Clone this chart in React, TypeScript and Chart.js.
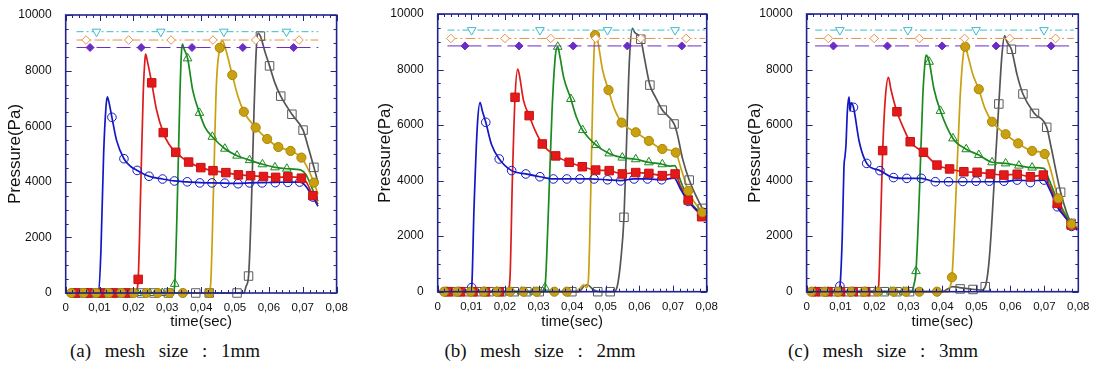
import React, { useEffect, useRef } from "react";
import { Chart, registerables } from "chart.js";

Chart.register(...registerables);

type Pt = [number, number];

// ---- axis labels ----
const xTickLabels = ["0", "0,01", "0,02", "0,03", "0,04", "0,05", "0,06", "0,07", "0,08"];
const yTickLabels = ["0", "2000", "4000", "6000", "8000", "10000"];
const captions = ["(a) mesh size : 1mm", "(b) mesh size : 2mm", "(c) mesh size : 3mm"];

// ---- (a) mesh size 1mm ----
const aBlueLine: Pt[] = [[0, 0], [0.0097, 0], [0.0104, 1500], [0.0112, 5000], [0.0119, 6700], [0.0123, 7060], [0.0128, 6850], [0.01365, 6320], [0.015, 5500], [0.0172, 4830], [0.0192, 4550], [0.0211, 4410], [0.0246, 4200], [0.0286, 4100], [0.0321, 4030], [0.0359, 4000], [0.0396, 3970], [0.0432, 3960], [0.047, 3950], [0.0509, 3940], [0.0543, 3960], [0.058, 3970], [0.0619, 3980], [0.0656, 3990], [0.0691, 3990], [0.0705, 3900], [0.072, 3650], [0.073, 3450], [0.0745, 3120]];
const aBlueMarks: Pt[] = [[0.0026, 0], [0.0063, 0], [0.0099, 0], [0.01365, 6320], [0.0172, 4830], [0.0211, 4410], [0.0246, 4200], [0.0286, 4100], [0.0321, 4030], [0.0359, 4000], [0.0396, 3960], [0.0432, 3960], [0.047, 3950], [0.0509, 3930], [0.0543, 3960], [0.058, 3960], [0.0619, 3970], [0.0656, 3980], [0.0691, 3990], [0.073, 3450]];
const aRedLine: Pt[] = [[0, 0], [0.0206, 0], [0.0214, 490], [0.0221, 3500], [0.0229, 7200], [0.0234, 8400], [0.0236, 8590], [0.0241, 8350], [0.0254, 7560], [0.0268, 6600], [0.0288, 5770], [0.0305, 5350], [0.0325, 5060], [0.0363, 4710], [0.0399, 4510], [0.0435, 4400], [0.0473, 4330], [0.051, 4250], [0.0546, 4220], [0.0584, 4190], [0.062, 4160], [0.0656, 4180], [0.0696, 4130], [0.071, 4000], [0.073, 3500], [0.0745, 3200]];
const aRedMarks: Pt[] = [[0.0029, 0], [0.0066, 0], [0.0103, 0], [0.014, 0], [0.0177, 0], [0.0214, 490], [0.0254, 7560], [0.0288, 5770], [0.0325, 5060], [0.0363, 4710], [0.0399, 4510], [0.0435, 4400], [0.0473, 4330], [0.051, 4250], [0.0546, 4220], [0.0584, 4190], [0.062, 4160], [0.0656, 4180], [0.0696, 4130], [0.073, 3500]];
const aGreenLine: Pt[] = [[0, 0], [0.0316, 0], [0.0322, 330], [0.0329, 3000], [0.0337, 7000], [0.0342, 8700], [0.0345, 8950], [0.0349, 8800], [0.036, 8440], [0.0375, 7300], [0.0395, 6480], [0.0412, 5950], [0.0433, 5620], [0.047, 5190], [0.0506, 4940], [0.0543, 4780], [0.0581, 4630], [0.0618, 4520], [0.0653, 4470], [0.0695, 4420], [0.071, 4250], [0.073, 3700], [0.0745, 3300]];
const aGreenMarks: Pt[] = [[0.0026, 0], [0.0063, 0], [0.01, 0], [0.0137, 0], [0.0174, 0], [0.0211, 0], [0.0248, 0], [0.0285, 0], [0.0322, 330], [0.036, 8440], [0.0395, 6480], [0.0433, 5620], [0.047, 5190], [0.0506, 4940], [0.0543, 4780], [0.0581, 4630], [0.0618, 4520], [0.0653, 4470]];
const aYellowLine: Pt[] = [[0, 0], [0.0422, 0], [0.0428, 300], [0.0436, 3500], [0.0445, 7500], [0.0455, 8820], [0.0463, 9080], [0.0468, 8950], [0.0492, 7840], [0.0508, 7100], [0.0526, 6520], [0.0561, 5950], [0.0595, 5540], [0.0628, 5250], [0.0664, 5110], [0.0696, 4870], [0.071, 4600], [0.0733, 3970], [0.0745, 3550]];
const aYellowMarks: Pt[] = [[0.0016, 0], [0.0053, 0], [0.009, 0], [0.0127, 0], [0.0164, 0], [0.0201, 0], [0.0238, 0], [0.0272, 0], [0.0307, 0], [0.0346, 0], [0.0424, 0], [0.0455, 8820], [0.0492, 7840], [0.0526, 6520], [0.0561, 5950], [0.0595, 5540], [0.0628, 5250], [0.0664, 5110], [0.0696, 4870], [0.0733, 3970]];
const aGrayLine: Pt[] = [[0, 0], [0.0526, 0], [0.0533, 250], [0.054, 610], [0.0548, 3000], [0.0556, 6500], [0.0563, 8800], [0.0568, 9340], [0.0575, 9240], [0.0588, 8700], [0.0602, 8170], [0.0618, 7550], [0.0635, 7080], [0.0668, 6430], [0.0701, 5860], [0.0715, 5300], [0.0733, 4520], [0.0745, 3970]];
const aGrayMarks: Pt[] = [[0.0039, 0], [0.0076, 0], [0.0113, 0], [0.015, 0], [0.0187, 0], [0.0224, 0], [0.0261, 0], [0.0303, 0], [0.0384, 0], [0.0424, 0], [0.0506, 0], [0.054, 610], [0.0575, 9240], [0.0602, 8170], [0.0635, 7080], [0.0668, 6430], [0.0701, 5860], [0.0733, 4520]];
const aRefSpan = [0.0032, 0.0746];
const aRefLevels = [9400, 9100, 8830];
const aCyanMarks = [0.0091, 0.0281, 0.0467, 0.0652];
const aOrangeMarks = [0.006, 0.0186, 0.0311, 0.0435, 0.0561, 0.0689];
const aPurpleMarks = [0.0072, 0.0223, 0.0373, 0.0523, 0.0673];

// ---- (b) mesh size 2mm ----
const bBlueLine: Pt[] = [[0, 0], [0.0096, 0], [0.0101, 150], [0.0108, 3000], [0.0118, 6000], [0.0126, 6810], [0.0133, 6500], [0.0143, 6100], [0.016, 5300], [0.0183, 4780], [0.022, 4360], [0.0262, 4240], [0.0304, 4140], [0.0344, 4060], [0.04, 4060], [0.045, 4060], [0.0505, 4030], [0.0544, 4000], [0.0584, 4060], [0.0624, 4060], [0.0666, 4030], [0.0703, 4090], [0.0722, 3700], [0.0745, 3250], [0.0775, 2900], [0.08, 2650]];
const bBlueMarks: Pt[] = [[0.0027, 0], [0.0064, 0], [0.0101, 150], [0.0143, 6100], [0.0183, 4780], [0.022, 4360], [0.0262, 4240], [0.0304, 4140], [0.0344, 4060], [0.0384, 4060], [0.0423, 4060], [0.0465, 4060], [0.0505, 4030], [0.0544, 3990], [0.0584, 4060], [0.0624, 4060], [0.0666, 4030], [0.0745, 3250], [0.0785, 2750]];
const bRedLine: Pt[] = [[0, 0], [0.0208, 0], [0.0215, 500], [0.0222, 4000], [0.023, 7000], [0.0238, 8020], [0.0243, 7800], [0.0255, 6900], [0.0272, 6340], [0.029, 5800], [0.0311, 5320], [0.0351, 4890], [0.0391, 4660], [0.043, 4500], [0.047, 4380], [0.051, 4360], [0.0549, 4240], [0.0589, 4290], [0.0628, 4260], [0.0668, 4180], [0.0706, 4240], [0.0722, 3800], [0.0745, 3300], [0.0775, 2850], [0.08, 2650]];
const bRedMarks: Pt[] = [[0.0031, 0], [0.0068, 0], [0.0105, 0], [0.0142, 0], [0.0183, 0], [0.023, 7000], [0.0272, 6340], [0.0311, 5320], [0.0351, 4890], [0.0391, 4660], [0.043, 4500], [0.047, 4380], [0.051, 4360], [0.0549, 4240], [0.0589, 4290], [0.0628, 4260], [0.0668, 4180], [0.0706, 4240], [0.0745, 3300], [0.0785, 2700]];
const bGreenLine: Pt[] = [[0, 0], [0.0312, 0], [0.0319, 150], [0.0328, 2500], [0.034, 6500], [0.035, 8500], [0.0357, 8820], [0.0363, 8500], [0.0375, 7700], [0.0396, 6940], [0.0412, 6300], [0.0431, 5820], [0.0471, 5280], [0.051, 4980], [0.0549, 4830], [0.0589, 4770], [0.0628, 4660], [0.0668, 4590], [0.069, 4520], [0.0705, 4540], [0.0722, 4000], [0.0745, 3350], [0.0775, 2900], [0.08, 2650]];
const bGreenMarks: Pt[] = [[0.0027, 0], [0.0064, 0], [0.0101, 0], [0.0138, 0], [0.0175, 0], [0.0212, 0], [0.0249, 0], [0.0286, 0], [0.0319, 150], [0.0357, 8820], [0.0396, 6940], [0.0431, 5820], [0.0471, 5280], [0.051, 4980], [0.0549, 4830], [0.0589, 4770], [0.0628, 4660], [0.0668, 4590], [0.0745, 3350], [0.0785, 2750]];
const bYellowLine: Pt[] = [[0, 0], [0.041, 0], [0.0425, 150], [0.0434, 250], [0.0442, 150], [0.0448, 400], [0.0455, 3500], [0.0462, 7500], [0.0468, 9240], [0.0471, 9300], [0.0478, 8900], [0.049, 8000], [0.0508, 7260], [0.0525, 6600], [0.0547, 6090], [0.0589, 5740], [0.0628, 5430], [0.0668, 5140], [0.0708, 5010], [0.0722, 4500], [0.0745, 3630], [0.0765, 3200], [0.0787, 2860], [0.08, 2700]];
const bYellowMarks: Pt[] = [[0.0019, 0], [0.0058, 0], [0.0098, 0], [0.0137, 0], [0.0176, 0], [0.0215, 0], [0.0255, 0], [0.0294, 0], [0.0347, 0], [0.0384, 0], [0.0468, 9240], [0.0508, 7260], [0.0547, 6090], [0.0589, 5740], [0.0628, 5430], [0.0668, 5140], [0.0708, 5010], [0.0745, 3630], [0.0787, 2860]];
const bGrayLine: Pt[] = [[0, 0], [0.042, 0], [0.0435, 200], [0.0445, 250], [0.0462, 80], [0.048, 0], [0.0525, 0], [0.0535, 250], [0.0545, 1200], [0.0554, 2680], [0.0562, 5500], [0.057, 8300], [0.0579, 9480], [0.0585, 9350], [0.0604, 9090], [0.0615, 8400], [0.0631, 7440], [0.0648, 7000], [0.0668, 6540], [0.0703, 6040], [0.0712, 5700], [0.0728, 4800], [0.0748, 4020], [0.0787, 3000], [0.08, 2750]];
const bGrayMarks: Pt[] = [[0.0043, 0], [0.008, 0], [0.0117, 0], [0.0154, 0], [0.0191, 0], [0.0228, 0], [0.0265, 0], [0.0302, 0], [0.0399, 0], [0.0476, 0], [0.0513, 0], [0.0554, 2680], [0.0604, 9090], [0.0631, 7440], [0.0668, 6540], [0.0703, 6040], [0.0748, 4020], [0.0787, 3000]];
const bRefSpan = [0.0029, 0.0795];
const bRefLevels = [9420, 9120, 8850];
const bCyanMarks = [0.0101, 0.0304, 0.0505, 0.0706];
const bOrangeMarks = [0.0039, 0.02, 0.0336, 0.047, 0.0604, 0.0739];
const bPurpleMarks = [0.0081, 0.0242, 0.0403, 0.0564, 0.0726];

// ---- (c) mesh size 3mm ----
const cBlueLine: Pt[] = [[0, 0], [0.0093, 0], [0.0099, 300], [0.0105, 2000], [0.011, 4500], [0.0113, 4860], [0.0116, 5300], [0.012, 6500], [0.0125, 7020], [0.0128, 6500], [0.0131, 6800], [0.0138, 6640], [0.0155, 5400], [0.0177, 4620], [0.0216, 4360], [0.0256, 4110], [0.0295, 4080], [0.0338, 4080], [0.0379, 3960], [0.0418, 3960], [0.046, 3960], [0.0499, 3960], [0.0538, 3960], [0.0581, 3960], [0.062, 4020], [0.0659, 3990], [0.0699, 4020], [0.0715, 3700], [0.0738, 3060], [0.076, 2700], [0.0797, 2220]];
const cBlueMarks: Pt[] = [[0.0024, 0], [0.0061, 0], [0.0098, 200], [0.0138, 6640], [0.0177, 4620], [0.0216, 4360], [0.0256, 4110], [0.0295, 4080], [0.0338, 4080], [0.0379, 3960], [0.0418, 3960], [0.046, 3970], [0.0499, 3980], [0.0538, 3980], [0.0581, 3980], [0.062, 4020], [0.0659, 3930], [0.0699, 4020], [0.0738, 3060], [0.078, 2350]];
const cRedLine: Pt[] = [[0, 0], [0.0205, 0], [0.0212, 200], [0.0218, 2500], [0.0224, 5080], [0.0232, 7000], [0.0241, 7720], [0.0248, 7300], [0.0266, 6480], [0.0285, 5900], [0.0305, 5400], [0.0344, 5020], [0.0384, 4560], [0.0421, 4420], [0.0463, 4320], [0.0502, 4300], [0.0541, 4240], [0.0581, 4200], [0.062, 4230], [0.0659, 4140], [0.0697, 4200], [0.0712, 3900], [0.0738, 3180], [0.0779, 2400], [0.0797, 2250]];
const cRedMarks: Pt[] = [[0.0026, 0], [0.0063, 0], [0.01, 0], [0.0137, 0], [0.0174, 0], [0.0224, 5080], [0.0266, 6480], [0.0305, 5400], [0.0344, 5020], [0.0384, 4560], [0.0421, 4420], [0.0463, 4320], [0.0502, 4300], [0.0541, 4240], [0.0581, 4200], [0.062, 4230], [0.0659, 4140], [0.0697, 4200], [0.0738, 3180], [0.0779, 2400]];
const cGreenLine: Pt[] = [[0, 0], [0.0308, 0], [0.0316, 250], [0.0322, 740], [0.0332, 3500], [0.0342, 7000], [0.0349, 8300], [0.0352, 8520], [0.0361, 8280], [0.0375, 7300], [0.0394, 6510], [0.0431, 5520], [0.047, 5130], [0.0507, 4920], [0.0546, 4660], [0.0586, 4620], [0.0625, 4540], [0.0664, 4470], [0.0699, 4440], [0.0715, 4000], [0.074, 3250], [0.078, 2450], [0.0797, 2250]];
const cGreenMarks: Pt[] = [[0.0026, 0], [0.0063, 0], [0.01, 0], [0.0137, 0], [0.0174, 0], [0.0211, 0], [0.0248, 0], [0.0285, 0], [0.0322, 740], [0.0361, 8280], [0.0394, 6510], [0.0431, 5520], [0.047, 5130], [0.0507, 4920], [0.0546, 4660], [0.0586, 4620], [0.0625, 4540], [0.0664, 4470], [0.074, 3250], [0.078, 2450]];
const cYellowLine: Pt[] = [[0, 0], [0.0418, 0], [0.0423, 200], [0.0428, 520], [0.0438, 3000], [0.0452, 7000], [0.0462, 8600], [0.0467, 8820], [0.0475, 8500], [0.049, 7800], [0.0507, 7290], [0.0525, 6600], [0.0546, 6120], [0.0586, 5670], [0.0623, 5340], [0.0664, 5070], [0.0701, 4960], [0.0716, 4500], [0.0741, 3360], [0.078, 2440], [0.0797, 2300]];
const cYellowMarks: Pt[] = [[0.0014, 0], [0.0053, 0], [0.0092, 0], [0.0131, 0], [0.017, 0], [0.0209, 0], [0.0256, 0], [0.0292, 0], [0.0332, 0], [0.0384, 0], [0.0428, 520], [0.0467, 8820], [0.0507, 7290], [0.0546, 6120], [0.0586, 5670], [0.0623, 5340], [0.0664, 5070], [0.0701, 4960], [0.0741, 3360], [0.078, 2440]];
const cGrayLine: Pt[] = [[0, 0], [0.04, 0], [0.0415, 100], [0.043, 180], [0.045, 150], [0.048, 100], [0.0515, 60], [0.0526, 180], [0.0538, 1200], [0.0555, 4500], [0.0566, 6760], [0.0575, 8500], [0.0583, 9210], [0.059, 9000], [0.0603, 8730], [0.062, 7800], [0.0637, 7120], [0.0671, 6420], [0.0707, 5920], [0.072, 5200], [0.0748, 3580], [0.0779, 2460], [0.0797, 2300]];
const cGrayMarks: Pt[] = [[0.0044, 0], [0.0081, 0], [0.0118, 0], [0.0155, 0], [0.0192, 0], [0.0229, 0], [0.0266, 0], [0.0303, 0], [0.0452, 100], [0.049, 80], [0.0526, 180], [0.0566, 6760], [0.0603, 8730], [0.0637, 7120], [0.0671, 6420], [0.0707, 5920], [0.0748, 3580], [0.0779, 2460]];
const cRefSpan = [0.0025, 0.0787];
const cRefLevels = [9420, 9120, 8850];
const cCyanMarks = [0.0098, 0.0298, 0.0499, 0.0699];
const cOrangeMarks = [0.0064, 0.0199, 0.0332, 0.0465, 0.0598, 0.0733];
const cPurpleMarks = [0.0079, 0.0238, 0.0399, 0.0558, 0.072];

// ---- styling ----
const FRAME = "#20248e";
const SANS = "'Liberation Sans', Arial, sans-serif";
const SERIF = "'Liberation Serif', 'Times New Roman', serif";

const seriesStyles = [
  { color: "#1418c4", marker: "circle", radius: 4.3, fill: "rgba(0,0,0,0)", stroke: "#1418c4", rot: 0 },
  { color: "#dc1c1c", marker: "rect", radius: 6, fill: "#e41a1a", stroke: "#c81212", rot: 0 },
  { color: "#1a8a1e", marker: "triangle", radius: 5, fill: "rgba(0,0,0,0)", stroke: "#1a8a1e", rot: 0 },
  { color: "#c9a012", marker: "circle", radius: 4.6, fill: "#c9a012", stroke: "#a98600", rot: 0 },
  { color: "#555555", marker: "rect", radius: 6, fill: "rgba(0,0,0,0)", stroke: "#5a5a5a", rot: 0 },
];

const refStyles = [
  { color: "#3cbccc", dash: [7, 3, 2, 3], marker: "triangle", radius: 5, fill: "#ffffff", stroke: "#3cbccc", rot: 180 },
  { color: "#e6924a", dash: [10, 3, 2, 3], marker: "rectRot", radius: 4.3, fill: "#ffffff", stroke: "#e6924a", rot: 0 },
  { color: "#6a2cc6", dash: [14, 6], marker: "rectRot", radius: 4, fill: "#6a2cc6", stroke: "#6a2cc6", rot: 0 },
];

const panels = [
  {
    lines: [aBlueLine, aRedLine, aGreenLine, aYellowLine, aGrayLine],
    marks: [aBlueMarks, aRedMarks, aGreenMarks, aYellowMarks, aGrayMarks],
    refSpan: aRefSpan, refLevels: aRefLevels, refMarks: [aCyanMarks, aOrangeMarks, aPurpleMarks],
    canvasLeft: 5, chartLeft: 65.7, chartRight: 336.6, chartTop: 15, chartBottom: 293, xTitleY: 321.7,
    captionX: 165,
  },
  {
    lines: [bBlueLine, bRedLine, bGreenLine, bYellowLine, bGrayLine],
    marks: [bBlueMarks, bRedMarks, bGreenMarks, bYellowMarks, bGrayMarks],
    refSpan: bRefSpan, refLevels: bRefLevels, refMarks: [bCyanMarks, bOrangeMarks, bPurpleMarks],
    canvasLeft: 375, chartLeft: 437.7, chartRight: 706.7, chartTop: 14, chartBottom: 291.7, xTitleY: 321.7,
    captionX: 540,
  },
  {
    lines: [cBlueLine, cRedLine, cGreenLine, cYellowLine, cGrayLine],
    marks: [cBlueMarks, cRedMarks, cGreenMarks, cYellowMarks, cGrayMarks],
    refSpan: cRefSpan, refLevels: cRefLevels, refMarks: [cCyanMarks, cOrangeMarks, cPurpleMarks],
    canvasLeft: 745, chartLeft: 806.6, chartRight: 1078.3, chartTop: 14, chartBottom: 291.7, xTitleY: 321.7,
    captionX: 883,
  },
];

const CANVAS_W = 365;
const CANVAS_H = 340;

const toXY = (pts: Pt[]) => pts.map(([x, y]) => ({ x, y }));

// inward ticks on all four sides plus the frame
const frameTicks = {
  id: "frameTicks",
  afterDatasetsDraw(chart: any) {
    const { ctx, chartArea, scales } = chart;
    const { left, right, top, bottom } = chartArea;
    const xs = scales.x;
    const ys = scales.y;
    ctx.save();
    ctx.strokeStyle = FRAME;
    ctx.lineWidth = 1;
    ctx.beginPath();
    for (let i = 0; i <= 40; i++) {
      const px = Math.round(xs.getPixelForValue(i * 0.002)) + 0.5;
      const len = i % 5 === 0 ? 6 : 3;
      ctx.moveTo(px, bottom);
      ctx.lineTo(px, bottom - len);
      ctx.moveTo(px, top);
      ctx.lineTo(px, top + len);
    }
    for (let i = 0; i <= 20; i++) {
      const py = Math.round(ys.getPixelForValue(i * 500)) + 0.5;
      const len = i % 4 === 0 ? 6 : 3;
      ctx.moveTo(left, py);
      ctx.lineTo(left + len, py);
      ctx.moveTo(right, py);
      ctx.lineTo(right - len, py);
    }
    ctx.stroke();
    ctx.lineWidth = 1.6;
    ctx.strokeRect(left, top, right - left, bottom - top);
    ctx.restore();
  },
};

function Panel({ p }: { p: (typeof panels)[number] }) {
  const ref = useRef<HTMLCanvasElement>(null);

  useEffect(() => {
    const yWidth = p.chartLeft - p.canvasLeft;
    const padRight = CANVAS_W - (p.chartRight - p.canvasLeft);
    const xHeight = p.xTitleY + 9 - p.chartBottom;
    const padBottom = CANVAS_H - p.chartBottom - xHeight;

    const markSets: any[] = [];
    const lineSets: any[] = [];

    // reference levels with their symbols
    p.refLevels.forEach((lvl, i) => {
      const s = refStyles[i];
      markSets.push({
        data: p.refMarks[i].map((x) => ({ x, y: lvl })),
        showLine: false,
        pointStyle: s.marker,
        pointRadius: s.radius,
        pointRotation: s.rot,
        pointBackgroundColor: s.fill,
        pointBorderColor: s.stroke,
        pointBorderWidth: 1,
        clip: false,
      });
      lineSets.push({
        data: [{ x: p.refSpan[0], y: lvl }, { x: p.refSpan[1], y: lvl }],
        borderColor: s.color,
        borderWidth: 1,
        borderDash: s.dash,
        pointRadius: 0,
        clip: false,
      });
    });

    // pressure curves, top-most first
    const order = [3, 1, 4, 2, 0];
    order.forEach((k) => {
      const s = seriesStyles[k];
      markSets.push({
        data: toXY(p.marks[k]),
        showLine: false,
        pointStyle: s.marker,
        pointRadius: s.radius,
        pointRotation: s.rot,
        pointBackgroundColor: s.fill,
        pointBorderColor: s.stroke,
        pointBorderWidth: 1,
        clip: false,
      });
    });
    [0, 1, 2, 3, 4].forEach((k) => {
      const s = seriesStyles[k];
      lineSets.push({
        data: toXY(p.lines[k]),
        borderColor: s.color,
        borderWidth: 1.7,
        pointRadius: 0,
        cubicInterpolationMode: "monotone",
        clip: false,
      });
    });

    const chart = new Chart(ref.current as HTMLCanvasElement, {
      type: "line",
      data: { datasets: [...markSets, ...lineSets] },
      options: {
        responsive: false,
        animation: false,
        devicePixelRatio: 1,
        events: [],
        layout: { padding: { left: 0, top: p.chartTop, right: padRight, bottom: padBottom } },
        plugins: { legend: { display: false }, tooltip: { enabled: false } },
        scales: {
          x: {
            type: "linear",
            min: 0,
            max: 0.08,
            afterFit: (sc: any) => {
              sc.height = xHeight;
            },
            grid: { display: false },
            border: { display: false },
            ticks: {
              stepSize: 0.01,
              autoSkip: false,
              maxRotation: 0,
              padding: 0,
              color: "#111",
              font: { family: SANS, size: 11.5 },
              callback: (_v: any, i: number) => xTickLabels[i],
            },
            title: {
              display: true,
              text: "time(sec)",
              color: "#111",
              padding: 0,
              font: { family: SANS, size: 15, lineHeight: 1.2 },
            },
          },
          y: {
            type: "linear",
            min: 0,
            max: 10000,
            afterFit: (sc: any) => {
              sc.width = yWidth;
            },
            grid: { display: false },
            border: { display: false },
            ticks: {
              stepSize: 2000,
              autoSkip: false,
              padding: 6,
              color: "#111",
              font: { family: SANS, size: 12 },
              callback: (_v: any, i: number) => yTickLabels[i],
            },
            title: {
              display: true,
              text: "Pressure(Pa)",
              color: "#111",
              padding: 0,
              font: { family: SANS, size: 17, lineHeight: 1.2 },
            },
          },
        },
      },
      plugins: [frameTicks],
    } as any);
    return () => chart.destroy();
  }, []);

  return (
    <canvas
      ref={ref}
      width={CANVAS_W}
      height={CANVAS_H}
      style={{ position: "absolute", left: p.canvasLeft, top: 0, width: CANVAS_W, height: CANVAS_H }}
    />
  );
}

export default function App() {
  return (
    <div style={{ position: "absolute", left: 0, top: 0, width: 1098, height: 379, background: "#fff", overflow: "hidden" }}>
      {panels.map((p, i) => (
        <Panel key={i} p={p} />
      ))}
      {panels.map((p, i) => (
        <div
          key={"c" + i}
          style={{
            position: "absolute",
            left: p.captionX,
            top: 340,
            transform: "translateX(-50%)",
            whiteSpace: "nowrap",
            fontFamily: SERIF,
            fontSize: 19,
            lineHeight: "22px",
            wordSpacing: 9,
            color: "#111",
          }}
        >
          {captions[i]}
        </div>
      ))}
    </div>
  );
}
